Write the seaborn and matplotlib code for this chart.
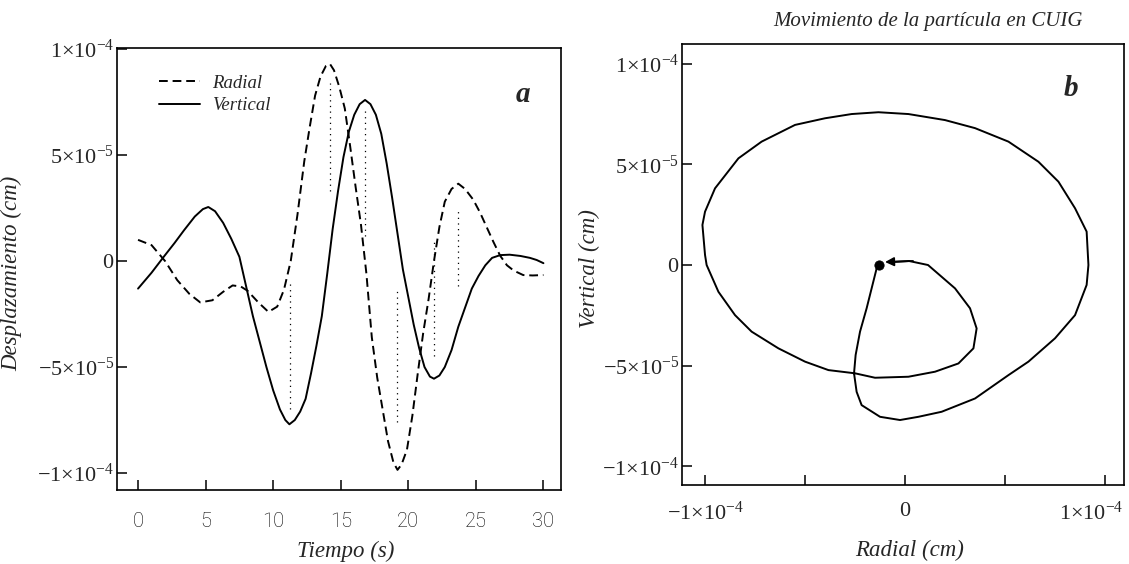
import numpy as np
import pandas as pd
import matplotlib
matplotlib.use("Agg")
import matplotlib.pyplot as plt
import matplotlib.transforms as mtransforms
import seaborn as sns

# ---------------- data (values in units of 1e-5 cm) ----------------
radial_t = [0, 1.0, 2.0, 2.9, 3.8, 4.6, 5.5, 6.3, 7.0, 7.6, 8.1, 8.9, 9.65, 10.3,
            10.8, 11.3, 11.8, 12.3, 12.7, 13.1, 13.5, 13.9, 14.2, 14.5, 14.9, 15.3,
            15.7, 16.1, 16.5, 16.9, 17.3, 17.7, 18.1, 18.5, 18.9, 19.2, 19.5, 19.9,
            20.3, 20.7, 21.1, 21.5, 21.9, 22.3, 22.7, 23.2, 23.7, 24.2, 24.8, 25.3,
            25.8, 26.3, 26.8, 27.3, 27.8, 28.5, 29.2, 30.0]
radial_v = [1.0, 0.75, 0.0, -0.9, -1.55, -1.95, -1.85, -1.45, -1.15, -1.2, -1.4,
            -1.95, -2.4, -2.15, -1.35, 0.0, 2.2, 4.7, 6.3, 7.8, 8.7, 9.2, 9.3, 9.0,
            8.2, 7.2, 5.4, 3.5, 1.7, -0.6, -3.6, -5.5, -7.0, -8.5, -9.5, -9.85, -9.6,
            -8.9, -7.3, -5.3, -3.4, -1.8, 0.0, 1.6, 2.8, 3.4, 3.65, 3.4, 2.9, 2.3,
            1.6, 0.9, 0.25, -0.2, -0.45, -0.66, -0.68, -0.66]

vertical_t = [0, 1.0, 1.9, 2.7, 3.4, 4.2, 4.8, 5.2, 5.7, 6.3, 6.9, 7.5, 8.0, 8.5,
              9.0, 9.5, 10.0, 10.5, 10.9, 11.2, 11.6, 12.0, 12.4, 12.8, 13.2, 13.6,
              14.0, 14.4, 14.8, 15.2, 15.6, 16.0, 16.4, 16.8, 17.2, 17.6, 18.0, 18.4,
              18.8, 19.2, 19.6, 20.0, 20.4, 20.8, 21.2, 21.6, 21.9, 22.3, 22.7, 23.2,
              23.7, 24.2, 24.7, 25.2, 25.7, 26.2, 26.8, 27.5, 28.3, 29.0, 29.5, 30.0]
vertical_v = [-1.3, -0.55, 0.2, 0.85, 1.45, 2.1, 2.45, 2.55, 2.35, 1.8, 1.05, 0.2,
              -1.2, -2.6, -3.8, -5.0, -6.1, -7.0, -7.5, -7.7, -7.5, -7.1, -6.5, -5.3,
              -4.0, -2.6, -0.6, 1.5, 3.3, 4.9, 6.1, 6.9, 7.4, 7.6, 7.4, 6.9, 6.0, 4.6,
              3.0, 1.3, -0.4, -1.7, -3.0, -4.1, -5.0, -5.45, -5.55, -5.4, -5.0, -4.2,
              -3.1, -2.2, -1.3, -0.7, -0.2, 0.15, 0.28, 0.3, 0.24, 0.15, 0.05, -0.1]

# faint dotted drop lines in the scanned figure
drop_t = [11.26, 14.2, 16.8, 19.2, 21.9, 23.7]
drop_top = [-1.0, 8.4, 7.1, -1.3, 1.0, 2.5]
drop_bottom = [-7.0, 3.3, 1.2, -7.6, -4.5, -1.2]

# particle motion (hodogram)
hodo_radial = [-0.6, 0.2, 1.15, 2.5, 3.25, 3.58, 3.42, 2.67, 1.5, 0.17, -1.5, -2.5,
               -3.83, -5.0, -6.33, -7.67, -8.5, -9.33, -9.92, -10.0, -10.13, -10.0,
               -9.5, -8.33, -7.17, -5.5, -4.0, -2.67, -1.33, 0.17, 2.0, 3.5, 5.17,
               6.67, 7.67, 8.5, 9.08, 9.17, 9.08, 8.5, 7.5, 6.17, 5.17, 3.5, 1.83,
               0.67, -0.25, -1.25, -2.17, -2.42, -2.55, -2.47, -2.25, -1.92, -1.67,
               -1.42, -1.3]
hodo_vertical = [0.15, 0.2, 0.0, -1.16, -2.15, -3.15, -4.14, -4.89, -5.3, -5.55, -5.6,
                 -5.38, -5.22, -4.8, -4.14, -3.31, -2.49, -1.33, 0.0, 0.5, 1.99, 2.65,
                 3.81, 5.3, 6.13, 6.96, 7.29, 7.5, 7.59, 7.5, 7.2, 6.8, 6.13, 5.13,
                 4.14, 2.82, 1.66, 0.0, -0.99, -2.49, -3.64, -4.8, -5.47, -6.63, -7.29,
                 -7.54, -7.7, -7.54, -6.96, -6.3, -5.38, -4.47, -3.31, -2.15, -1.16,
                 -0.17, 0.0]
hodo_start = [-1.3, 0.0]

SCALE = 1e-5
time_ticks = [0, 5, 10, 15, 20, 25, 30]
disp_ticks = [-1e-4, -5e-5, 0, 5e-5, 1e-4]
disp_labels = [r"$-1{\times}10^{-4}$", r"$-5{\times}10^{-5}$", r"$0$",
               r"$5{\times}10^{-5}$", r"$1{\times}10^{-4}$"]
radial_ticks = [-1e-4, -5e-5, 0, 5e-5, 1e-4]
radial_labels = [r"$-1{\times}10^{-4}$", "", r"$0$", "", r"$1{\times}10^{-4}$"]

# ---------------- style ----------------
sns.set_style("ticks")
plt.rcParams["font.family"] = ["Liberation Serif", "DejaVu Serif"]
plt.rcParams["mathtext.fontset"] = "custom"
plt.rcParams["mathtext.rm"] = "Liberation Serif"
plt.rcParams["mathtext.it"] = "Liberation Serif:italic"
plt.rcParams["axes.linewidth"] = 1.2

fig = plt.figure(figsize=(11.29, 5.64), dpi=100)
axL = fig.add_axes([0.1036, 0.1312, 0.3933, 0.7837])
axR = fig.add_axes([0.6041, 0.1400, 0.3915, 0.7820])

df_r = pd.DataFrame({"t": radial_t, "v": np.array(radial_v) * SCALE})
df_v = pd.DataFrame({"t": vertical_t, "v": np.array(vertical_v) * SCALE})

sns.lineplot(data=df_r, x="t", y="v", ax=axL, color="black", lw=1.4,
             label="Radial", sort=False, estimator=None)
axL.lines[-1].set_dashes((4.5, 2.5))
sns.lineplot(data=df_v, x="t", y="v", ax=axL, color="black", lw=1.4,
             label="Vertical", sort=False, estimator=None)
axL.vlines(drop_t, np.array(drop_bottom) * SCALE, np.array(drop_top) * SCALE,
           colors="black", linestyles=(0, (1, 3.5)), lw=0.9)

axL.set_xlim(-1.56, 31.3)
axL.set_ylim(-1.08e-4, 1.005e-4)
axL.set_xticks(time_ticks)
axL.set_xticklabels([str(t) for t in time_ticks])
for lbl in axL.get_xticklabels():
    lbl.set_fontfamily("Roboto")
    lbl.set_fontweight("light")
    lbl.set_fontsize(14.5)
    lbl.set_color("black")
axL.set_yticks(disp_ticks)
axL.set_yticklabels(disp_labels, fontsize=16)
axL.tick_params(axis="both", direction="in", length=7, width=1.1, color="black")
axL.tick_params(axis="y", pad=2)
axL.tick_params(axis="x", pad=16)
axL.set_xlabel("Tiempo (s)", fontsize=16.5, style="italic")
axL.set_ylabel("Desplazamiento (cm)", fontsize=16.5, style="italic")
axL.yaxis.set_label_coords(-0.214, 0.49)
axL.xaxis.set_label_coords(0.516, -0.115)
leg = axL.legend(loc="upper left", bbox_to_anchor=(0.095, 0.94), frameon=False,
                 prop={"family": "Liberation Serif", "style": "italic", "size": 13.5},
                 handlelength=2.2, handletextpad=0.6, labelspacing=0.3,
                 borderpad=0, borderaxespad=0)
for h in leg.get_lines():
    h.set_linewidth(1.4)
leg.get_lines()[0].set_dashes((4.5, 2.5))
axL.text(0.915, 0.895, "a", transform=axL.transAxes, fontsize=21,
         fontweight="bold", style="italic", ha="center", va="center")

# right panel
df_h = pd.DataFrame({"r": np.array(hodo_radial) * SCALE,
                     "z": np.array(hodo_vertical) * SCALE})
sns.lineplot(data=df_h, x="r", y="z", ax=axR, color="black", lw=1.4,
             sort=False, estimator=None)
sns.scatterplot(x=[hodo_start[0] * SCALE], y=[hodo_start[1] * SCALE], ax=axR,
                color="black", s=45, edgecolor="black", zorder=5)
axR.annotate("", xy=(-1.0e-5, 0.15e-5), xytext=(0.4e-5, 0.2e-5),
             arrowprops=dict(arrowstyle="-|>", color="black", lw=1.3,
                             mutation_scale=13, shrinkA=0, shrinkB=0))
axR.set_xlim(-1.115e-4, 1.095e-4)
axR.set_ylim(-1.093e-4, 1.098e-4)
axR.set_xticks(radial_ticks)
axR.set_xticklabels(radial_labels, fontsize=16)
axR.set_yticks(disp_ticks)
axR.set_yticklabels(disp_labels, fontsize=16)
axR.tick_params(axis="both", direction="in", length=7, width=1.1, color="black")
axR.tick_params(axis="y", pad=2)
axR.tick_params(axis="x", pad=12)
# keep the last radial tick label inside the figure, as in the scan
shift = mtransforms.ScaledTranslation(-0.14, 0, fig.dpi_scale_trans)
last = axR.get_xticklabels()[-1]
last.set_transform(last.get_transform() + shift)
axR.set_xlabel("Radial (cm)", fontsize=16.5, style="italic")
axR.set_ylabel("Vertical (cm)", fontsize=16.5, style="italic")
axR.yaxis.set_label_coords(-0.186, 0.49)
axR.xaxis.set_label_coords(0.514, -0.125)
axR.text(0.88, 0.898, "b", transform=axR.transAxes, fontsize=21,
         fontweight="bold", style="italic", ha="center", va="center")

fig.text(0.822, 0.962, "Movimiento de la partícula en CUIG", fontsize=15,
         style="italic", ha="center", va="center")

for ax in (axL, axR):
    for s in ax.spines.values():
        s.set_visible(True)
        s.set_color("black")

fig.savefig("out.png", dpi=100)
